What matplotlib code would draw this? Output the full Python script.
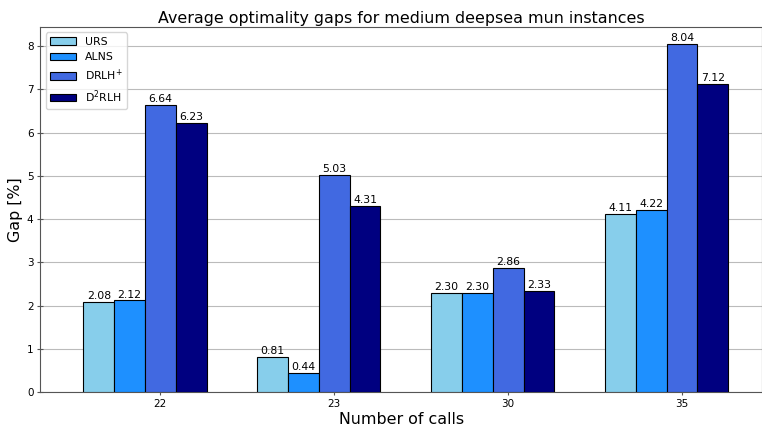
import matplotlib.pyplot as plt
import numpy as np

calls = ["22", "23", "30", "35"]
urs = [2.08, 0.81, 2.30, 4.11]
alns = [2.12, 0.44, 2.30, 4.22]
drlh = [6.64, 5.03, 2.86, 8.04]
d2rlh = [6.23, 4.31, 2.33, 7.12]

series = [
    ("URS", urs, "skyblue"),
    ("ALNS", alns, "dodgerblue"),
    ("DRLH$^{+}$", drlh, "royalblue"),
    ("D$^{2}$RLH", d2rlh, "navy"),
]

fig = plt.figure(figsize=(7.62, 4.28), dpi=100)
ax = fig.add_axes([0.053, 0.084, 0.947, 0.853])

x = np.arange(len(calls))
width = 0.177
for i, (name, vals, color) in enumerate(series):
    offs = (i - 2) * width
    bars = ax.bar(x + offs, vals, width, label=name, color=color,
                  edgecolor="black", linewidth=0.8, zorder=3)
    for b, v in zip(bars, vals):
        ax.text(b.get_x() + b.get_width() / 2, v + 0.02, f"{v:.2f}",
                ha="center", va="bottom", fontsize=7.8)

ax.set_xticks(x)
ax.set_xticklabels(calls)
ax.tick_params(labelsize=7.5, color="#555555", direction="inout", length=5, pad=2.5)
ax.set_xlim(-0.69, 3.46)
ax.yaxis.grid(True, color="#bbbbbb", linewidth=0.8, zorder=0)
for s in ax.spines.values():
    s.set_color("#555555")
ax.set_title("Average optimality gaps for medium deepsea mun instances", fontsize=11.4, pad=3)
ax.set_xlabel("Number of calls", fontsize=11.4, labelpad=2)
ax.set_ylabel("Gap [%]", fontsize=11.4, labelpad=3)
ax.legend(loc="upper left", fontsize=7.8, handlelength=2.4)

fig.savefig("out.png", dpi=100)
